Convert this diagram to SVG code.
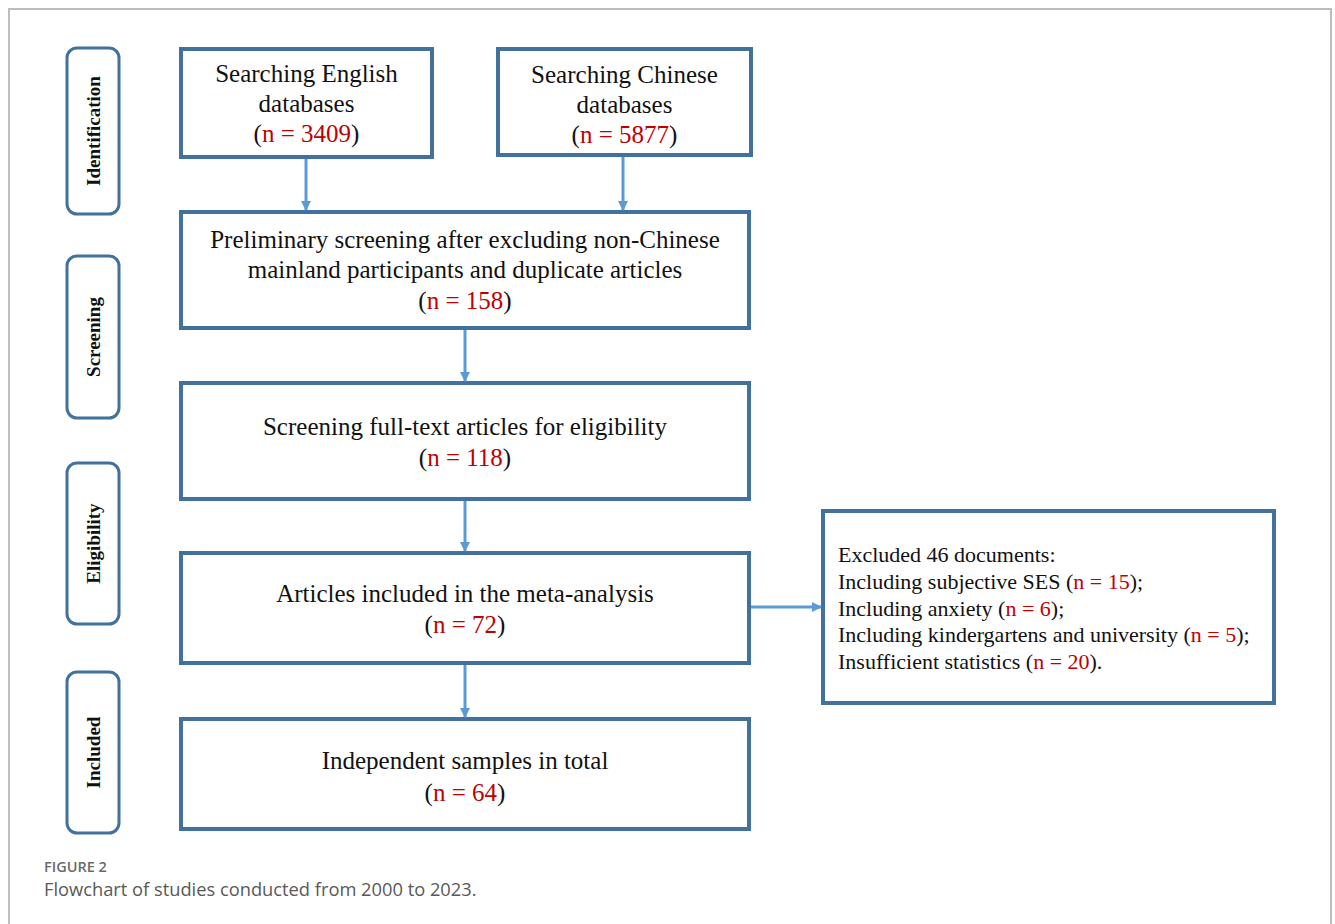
<svg xmlns="http://www.w3.org/2000/svg" width="1335" height="924" viewBox="0 0 1335 924">
<style>
.frame{fill:none;stroke:#bdbdbd;stroke-width:2}
.box{fill:#fff;stroke:#41719c;stroke-width:4}
.lab{fill:#fff;stroke:#41719c;stroke-width:3}
.t{font-family:"Liberation Serif","Times New Roman",serif;font-size:25px;fill:#111;text-anchor:middle}
.ts{font-family:"Liberation Serif","Times New Roman",serif;font-size:22px;fill:#111}
.lt{font-family:"Liberation Serif","Times New Roman",serif;font-size:19px;font-weight:bold;fill:#111;text-anchor:middle}
.r{fill:#c00000}
.conn{stroke:#5b9bd5;stroke-width:3;fill:none}
.cap1{font-family:"Open Sans","Noto Sans",sans-serif;font-size:14.5px;font-weight:600;fill:#6b6b6b}
.cap2{font-family:"Open Sans","Noto Sans",sans-serif;font-size:18.3px;fill:#595959}
</style>
<defs>
<marker id="av" viewBox="0 0 10 10" markerWidth="11" markerHeight="10" refX="9" refY="5" orient="auto" markerUnits="userSpaceOnUse">
<path d="M0,0 L10,5 L0,10 Z" fill="#5b9bd5"/>
</marker>
</defs>
<rect class="frame" x="9" y="9" width="1322" height="940"/>

<g id="label-identification">
<rect class="lab" x="67" y="48" width="52" height="166" rx="10"/>
<text class="lt" transform="translate(100,131) rotate(-90)">Identification</text>
</g>
<g id="label-screening">
<rect class="lab" x="67" y="256" width="52" height="162" rx="10"/>
<text class="lt" transform="translate(100,337) rotate(-90)">Screening</text>
</g>
<g id="label-eligibility">
<rect class="lab" x="67" y="463" width="52" height="161" rx="10"/>
<text class="lt" transform="translate(100,543.5) rotate(-90)">Eligibility</text>
</g>
<g id="label-included">
<rect class="lab" x="67" y="672" width="52" height="161" rx="10"/>
<text class="lt" transform="translate(100,752.5) rotate(-90)">Included</text>
</g>

<g id="node-english">
<rect class="box" x="181" y="49" width="251" height="108"/>
<text class="t" x="306.5" y="82">Searching English</text>
<text class="t" x="306.5" y="112">databases</text>
<text class="t" x="306.5" y="142">(<tspan class="r">n = 3409</tspan>)</text>
</g>
<g id="node-chinese">
<rect class="box" x="498" y="49" width="253" height="106"/>
<text class="t" x="624.5" y="83">Searching Chinese</text>
<text class="t" x="624.5" y="113">databases</text>
<text class="t" x="624.5" y="143">(<tspan class="r">n = 5877</tspan>)</text>
</g>
<g id="node-preliminary">
<rect class="box" x="181" y="212" width="568" height="116"/>
<text class="t" x="465" y="248">Preliminary screening after excluding non-Chinese</text>
<text class="t" x="465" y="278">mainland participants and duplicate articles</text>
<text class="t" x="465" y="309">(<tspan class="r">n = 158</tspan>)</text>
</g>
<g id="node-fulltext">
<rect class="box" x="181" y="383" width="568" height="116"/>
<text class="t" x="465" y="435">Screening full-text articles for eligibility</text>
<text class="t" x="465" y="466">(<tspan class="r">n = 118</tspan>)</text>
</g>
<g id="node-articles">
<rect class="box" x="181" y="553" width="568" height="110"/>
<text class="t" x="465" y="602">Articles included in the meta-analysis</text>
<text class="t" x="465" y="633">(<tspan class="r">n = 72</tspan>)</text>
</g>
<g id="node-samples">
<rect class="box" x="181" y="719" width="568" height="110"/>
<text class="t" x="465" y="769">Independent samples in total</text>
<text class="t" x="465" y="801">(<tspan class="r">n = 64</tspan>)</text>
</g>
<g id="node-excluded">
<rect class="box" x="823" y="511" width="451" height="192"/>
<text class="ts" x="838" y="562">Excluded 46 documents:</text>
<text class="ts" x="838" y="589">Including subjective SES (<tspan class="r">n = 15</tspan>);</text>
<text class="ts" x="838" y="616">Including anxiety (<tspan class="r">n = 6</tspan>);</text>
<text class="ts" x="838" y="642">Including kindergartens and university (<tspan class="r">n = 5</tspan>);</text>
<text class="ts" x="838" y="669">Insufficient statistics (<tspan class="r">n = 20</tspan>).</text>
</g>

<g id="connectors">
<line class="conn" x1="306" y1="159" x2="306" y2="210" marker-end="url(#av)"/>
<line class="conn" x1="623" y1="157" x2="623" y2="210" marker-end="url(#av)"/>
<line class="conn" x1="465" y1="330" x2="465" y2="381" marker-end="url(#av)"/>
<line class="conn" x1="465" y1="501" x2="465" y2="551" marker-end="url(#av)"/>
<line class="conn" x1="465" y1="665" x2="465" y2="717" marker-end="url(#av)"/>
<line class="conn" x1="751" y1="607" x2="821" y2="607" marker-end="url(#av)"/>
</g>

<g id="caption">
<text class="cap1" x="44" y="872">FIGURE 2</text>
<text class="cap2" x="44" y="896">Flowchart of studies conducted from 2000 to 2023.</text>
</g>
</svg>
